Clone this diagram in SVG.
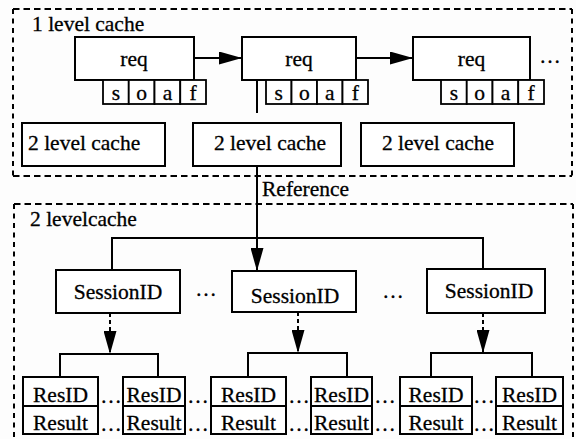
<svg xmlns="http://www.w3.org/2000/svg" width="576" height="439" viewBox="0 0 576 439" font-family="'Liberation Serif', 'Times New Roman', Times, serif" font-size="21.5">
  <defs>
    <style>
      .bg { fill: #fdfdfd; }
      .box { fill: #ffffff; stroke: #000; stroke-width: 2; }
      .cell { fill: #ffffff; stroke: #000; stroke-width: 1.8; }
      .frame { fill: none; stroke: #000; stroke-width: 2; stroke-dasharray: 6.5 4; }
      .frame-v { fill: none; stroke: #000; stroke-width: 2; stroke-dasharray: 5 4.5; }
      .wire { fill: none; stroke: #000; stroke-width: 2; }
      .dash { fill: none; stroke: #000; stroke-width: 2; stroke-dasharray: 4 3; }
      text { fill: #000; stroke: #000; stroke-width: 0.3; }
      .c { text-anchor: middle; }
    </style>
    <marker id="head" markerUnits="userSpaceOnUse" markerWidth="23" markerHeight="13" refX="23" refY="6.5" orient="auto">
      <path d="M0,0 L23,6.5 L0,13 Z" fill="#000"/>
    </marker>
  </defs>

  <rect class="bg" x="0" y="0" width="576" height="439"/>

  <!-- dashed containers -->
  <g id="level1-frame">
    <line class="frame" x1="13" y1="9" x2="572" y2="9"/>
    <line class="frame" x1="13" y1="176" x2="572" y2="176"/>
    <line class="frame-v" x1="13" y1="9" x2="13" y2="176"/>
    <line class="frame-v" x1="572" y1="9" x2="572" y2="176"/>
    <text x="32" y="31">1 level cache</text>
  </g>
  <g id="level2-frame">
    <line class="frame" x1="14" y1="204" x2="573" y2="204"/>
    <line class="frame-v" x1="14" y1="204" x2="14" y2="439"/>
    <line class="frame-v" x1="573" y1="204" x2="573" y2="439"/>
    <text x="30" y="226">2 levelcache</text>
  </g>

  <!-- connectors -->
  <g id="connectors">
    <line class="wire" x1="194" y1="58" x2="242" y2="58" marker-end="url(#head)"/>
    <line class="wire" x1="356" y1="58" x2="413" y2="58" marker-end="url(#head)"/>
    <line class="wire" x1="257" y1="80" x2="257" y2="113"/>
    <line class="wire" x1="257" y1="166" x2="257" y2="271" marker-end="url(#head)"/>
    <path class="wire" d="M112,270 V238 H483 V269"/>
    <line class="dash" x1="110" y1="313" x2="110" y2="354" marker-end="url(#head)"/>
    <line class="dash" x1="298" y1="312" x2="298" y2="353" marker-end="url(#head)"/>
    <line class="dash" x1="483" y1="313" x2="483" y2="353" marker-end="url(#head)"/>
    <path class="wire" d="M60,377 V354 H158 V377"/>
    <path class="wire" d="M248,377 V353 H347 V377"/>
    <path class="wire" d="M431,377 V353 H532 V377"/>
    <text x="262" y="196">Reference</text>
  </g>

  <!-- request chain -->
  <g id="req1">
    <rect class="box" x="75" y="37" width="119" height="43"/>
    <text class="c" x="134" y="66">req</text>
    <rect class="cell" x="103" y="80" width="25.75" height="24"/>
    <rect class="cell" x="128.75" y="80" width="25.75" height="24"/>
    <rect class="cell" x="154.5" y="80" width="25.75" height="24"/>
    <rect class="cell" x="180.25" y="80" width="25.75" height="24"/>
    <text class="c" x="116" y="100">s</text>
    <text class="c" x="141.6" y="100">o</text>
    <text class="c" x="167.4" y="100">a</text>
    <text class="c" x="193.1" y="100">f</text>
  </g>
  <g id="req2">
    <rect class="box" x="242" y="37" width="114" height="43"/>
    <text class="c" x="299" y="66">req</text>
    <rect class="cell" x="266" y="80" width="25.5" height="24"/>
    <rect class="cell" x="291.5" y="80" width="25.5" height="24"/>
    <rect class="cell" x="317" y="80" width="25.5" height="24"/>
    <rect class="cell" x="342.5" y="80" width="25.5" height="24"/>
    <text class="c" x="278.8" y="100">s</text>
    <text class="c" x="304.3" y="100">o</text>
    <text class="c" x="329.8" y="100">a</text>
    <text class="c" x="355.3" y="100">f</text>
  </g>
  <g id="req3">
    <rect class="box" x="413" y="37" width="117" height="43"/>
    <text class="c" x="471.5" y="66">req</text>
    <rect class="cell" x="441" y="80" width="25.75" height="24"/>
    <rect class="cell" x="466.75" y="80" width="25.75" height="24"/>
    <rect class="cell" x="492.5" y="80" width="25.75" height="24"/>
    <rect class="cell" x="518.25" y="80" width="25.75" height="24"/>
    <text class="c" x="454" y="100">s</text>
    <text class="c" x="479.6" y="100">o</text>
    <text class="c" x="505.4" y="100">a</text>
    <text class="c" x="531.1" y="100">f</text>
  </g>
  <g id="req-more">
    <text class="c" x="550" y="63">…</text>
  </g>

  <!-- second level caches -->
  <g id="cache-a">
    <rect class="box" x="22" y="123" width="143" height="43"/>
    <text x="28" y="150">2 level cache</text>
  </g>
  <g id="cache-b">
    <rect class="box" x="193" y="123" width="148" height="43"/>
    <text class="c" x="270" y="150">2 level cache</text>
  </g>
  <g id="cache-c">
    <rect class="box" x="361" y="123" width="153" height="43"/>
    <text class="c" x="438" y="150">2 level cache</text>
  </g>

  <!-- sessions -->
  <g id="session1">
    <rect class="box" x="56" y="270" width="124" height="43"/>
    <text class="c" x="118" y="299">SessionID</text>
  </g>
  <g id="session-gap1">
    <text class="c" x="206" y="296">…</text>
  </g>
  <g id="session2">
    <rect class="box" x="232" y="271" width="124" height="41"/>
    <text class="c" x="295" y="303">SessionID</text>
  </g>
  <g id="session-gap2">
    <text class="c" x="393" y="298">…</text>
  </g>
  <g id="session3">
    <rect class="box" x="427" y="269" width="118" height="44"/>
    <text class="c" x="489" y="298">SessionID</text>
  </g>

  <!-- result records -->
  <g id="res-a">
    <rect class="box" x="23" y="377" width="75" height="29"/>
    <rect class="box" x="23" y="406" width="75" height="28"/>
    <text class="c" x="60.5" y="402">ResID</text>
    <text class="c" x="60.5" y="430">Result</text>
  </g>
  <g id="res-b">
    <rect class="box" x="123" y="377" width="62" height="29"/>
    <rect class="box" x="123" y="406" width="62" height="28"/>
    <text class="c" x="154" y="402">ResID</text>
    <text class="c" x="154" y="430">Result</text>
  </g>
  <g id="res-c">
    <rect class="box" x="211" y="377" width="75" height="29"/>
    <rect class="box" x="211" y="406" width="75" height="28"/>
    <text class="c" x="248.5" y="402">ResID</text>
    <text class="c" x="248.5" y="430">Result</text>
  </g>
  <g id="res-d">
    <rect class="box" x="311" y="377" width="61" height="29"/>
    <rect class="box" x="311" y="406" width="61" height="28"/>
    <text class="c" x="341.5" y="402">ResID</text>
    <text class="c" x="341.5" y="430">Result</text>
  </g>
  <g id="res-e">
    <rect class="box" x="400" y="377" width="72" height="29"/>
    <rect class="box" x="400" y="406" width="72" height="28"/>
    <text class="c" x="436" y="402">ResID</text>
    <text class="c" x="436" y="430">Result</text>
  </g>
  <g id="res-f">
    <rect class="box" x="496" y="377" width="67" height="29"/>
    <rect class="box" x="496" y="406" width="67" height="28"/>
    <text class="c" x="529.5" y="402">ResID</text>
    <text class="c" x="529.5" y="430">Result</text>
  </g>
  <g id="res-gaps">
    <text class="c" x="111" y="403">…</text>
    <text class="c" x="111" y="431">…</text>
    <text class="c" x="198" y="403">…</text>
    <text class="c" x="198" y="431">…</text>
    <text class="c" x="299" y="403">…</text>
    <text class="c" x="299" y="431">…</text>
    <text class="c" x="385" y="403">…</text>
    <text class="c" x="385" y="431">…</text>
    <text class="c" x="484" y="403">…</text>
    <text class="c" x="484" y="431">…</text>
  </g>
</svg>
